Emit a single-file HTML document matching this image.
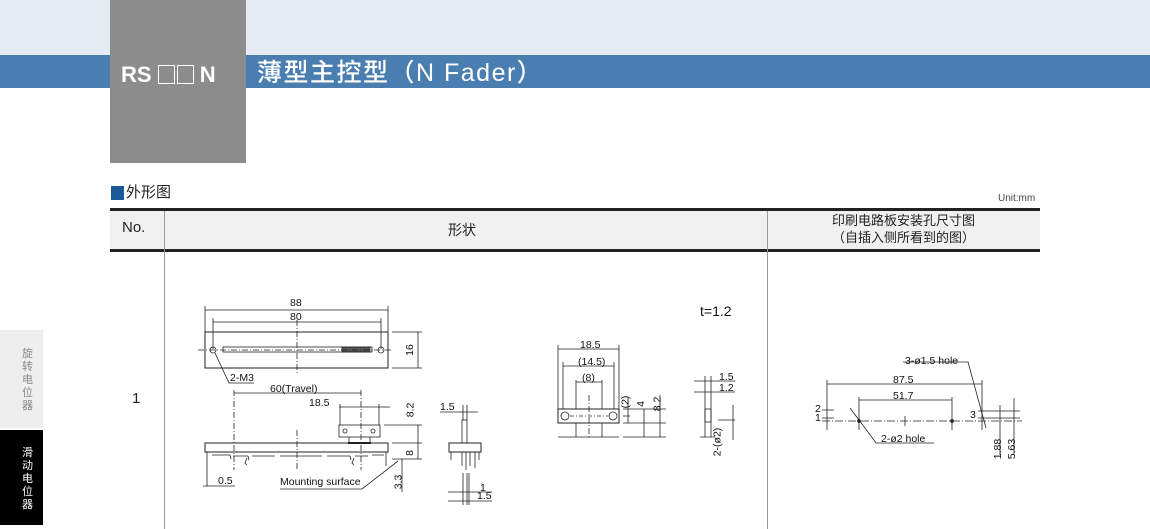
<!DOCTYPE html>
<html><head><meta charset="utf-8"><style>
*{margin:0;padding:0;box-sizing:border-box}
body{width:1150px;height:529px;position:relative;background:#fff;overflow:hidden;font-family:"Liberation Sans","Noto Sans CJK SC",sans-serif}
.a{position:absolute}
.d span{white-space:nowrap}
</style></head><body>
<div class="a" style="left:0;top:0;width:1150px;height:55px;background:#e6ecf3"></div>
<div class="a" style="left:0;top:55px;width:1150px;height:33px;background:#4a7eb0"></div>
<div class="a" style="left:110px;top:0;width:136px;height:163px;background:#8c8c8c"></div>
<div class="a" style="left:121px;top:60px;color:#fff;font-size:22px;font-weight:bold;line-height:30px;white-space:nowrap">RS <span style="display:inline-block;width:17px;height:19px;border:1.5px solid #fff;vertical-align:-2px"></span><span style="display:inline-block;width:17px;height:19px;border:1.5px solid #fff;vertical-align:-2px;margin-left:2px"></span> N</div>
<div class="a" style="left:257px;top:58px;color:#fff;font-size:25px;letter-spacing:1.5px;font-weight:500;line-height:30px;white-space:nowrap">薄型主控型（N Fader）</div>

<div class="a" style="left:111px;top:186px;width:13px;height:14px;background:#1a5a9a"></div>
<div class="a" style="left:126px;top:183px;font-size:15px;color:#222;line-height:20px">外形图</div>
<div class="a" style="left:998px;top:193px;font-size:10px;color:#444">Unit:mm</div>

<div class="a" style="left:110px;top:208px;width:930px;height:44px;background:#f0f0f0;border-top:3px solid #222;border-bottom:3px solid #222"></div>
<div class="a" style="left:164px;top:211px;width:1px;height:318px;background:#999"></div>
<div class="a" style="left:767px;top:211px;width:1px;height:318px;background:#999"></div>
<div class="a" style="left:122px;top:219px;font-size:15px;color:#222">No.</div>
<div class="a" style="left:448px;top:220px;font-size:14px;color:#222">形状</div>
<div class="a" style="left:767px;top:212px;width:273px;text-align:center;font-size:13px;line-height:17px;color:#222">印刷电路板安装孔尺寸图<br>（自插入侧所看到的图）</div>
<div class="a" style="left:132px;top:390px;font-size:15px;color:#222">1</div>

<div class="a" style="left:0;top:330px;width:43px;height:98px;background:#eeeeee"></div>
<div class="a" style="left:22px;top:348px;width:14px;font-size:11px;line-height:13px;color:#888">旋转电位器</div>
<div class="a" style="left:0;top:430px;width:43px;height:95px;background:#000"></div>
<div class="a" style="left:22px;top:447px;width:14px;font-size:11px;line-height:13px;color:#fff">滑动电位器</div>

<svg class="a" style="left:0;top:0" width="1150" height="529" fill="none" stroke="#222" stroke-width="0.8">
<rect x="205" y="332" width="183" height="36" stroke-width="1"/>
<line x1="205" y1="310" x2="388" y2="310"/><line x1="205" y1="306" x2="205" y2="332"/><line x1="388" y1="306" x2="388" y2="332"/>
<line x1="213" y1="322" x2="381" y2="322"/><line x1="213" y1="318" x2="213" y2="349"/><line x1="381" y1="318" x2="381" y2="349"/>
<circle cx="213" cy="350" r="3"/><circle cx="381" cy="350" r="3"/>
<rect x="223" y="347" width="149" height="5"/><rect x="342" y="347" width="28" height="5" fill="#555"/>
<line x1="198" y1="350" x2="392" y2="350" stroke-dasharray="6 2 1 2"/>
<line x1="297" y1="320" x2="297" y2="375" stroke-dasharray="6 2 1 2"/>
<line x1="392" y1="332" x2="422" y2="332"/><line x1="392" y1="368" x2="422" y2="368"/><line x1="418" y1="332" x2="418" y2="368"/>
<polyline points="215,353 229,383 254,383"/>
<line x1="234" y1="393" x2="361" y2="393"/>
<line x1="234" y1="390" x2="234" y2="470" stroke-dasharray="6 2 1 2"/><line x1="361" y1="390" x2="361" y2="470" stroke-dasharray="6 2 1 2"/>
<line x1="297" y1="430" x2="297" y2="470" stroke-dasharray="6 2 1 2"/>
<line x1="339" y1="407" x2="390" y2="407"/><line x1="340" y1="404" x2="340" y2="425"/><line x1="379" y1="404" x2="379" y2="425"/>
<rect x="339" y="425" width="41" height="12"/><circle cx="345" cy="431" r="2"/><circle cx="373" cy="431" r="2"/>
<path d="M349 437 V443 M370 437 V443"/><line x1="348" y1="443" x2="371" y2="443" stroke-width="2"/>
<rect x="205" y="443" width="183" height="9" stroke-width="1"/>
<path d="M207 452 V466 M386 452 V466 M212 455 H230 M233 456 H248 M252 456 H275 M280 456 H322 M327 456 H350 M355 456 H368 M230 455 l1 4 M248 456 l1 4 M350 456 l1 4 M372 455 H384"/>
<path d="M247 458 l-2 5 l2 2 M354 458 l-2 5 l2 2"/>
<line x1="384" y1="425" x2="422" y2="425"/><line x1="392" y1="443" x2="422" y2="443"/><line x1="392" y1="459" x2="422" y2="459"/>
<line x1="418" y1="425" x2="418" y2="459"/>
<line x1="402" y1="459" x2="402" y2="492"/>
<path d="M207 466 V486 M203 486 H214 M210 486 H235"/>
<polyline points="280,489 362,489 398,461"/>
<line x1="440" y1="412" x2="478" y2="412"/><line x1="463" y1="405" x2="463" y2="420"/><line x1="467" y1="405" x2="467" y2="420"/>
<rect x="462" y="420" width="5" height="23"/>
<rect x="449" y="443" width="32" height="9" stroke-width="1"/>
<path d="M451 452 V460 M479 452 V460 M462 452 V466 M466 452 V470 M470 452 V466 M475 452 V468"/>
<path d="M463 473 V505 M467 473 V505 M469 473 V505"/>
<line x1="448" y1="492" x2="492" y2="492"/><line x1="448" y1="501" x2="492" y2="501"/>
<line x1="558" y1="349" x2="619" y2="349"/><line x1="558" y1="345" x2="558" y2="409"/><line x1="619" y1="345" x2="619" y2="409"/>
<line x1="563" y1="366" x2="614" y2="366"/><line x1="563" y1="362" x2="563" y2="409"/><line x1="614" y1="362" x2="614" y2="409"/>
<line x1="576" y1="382" x2="602" y2="382"/><line x1="576" y1="380" x2="576" y2="409"/><line x1="602" y1="380" x2="602" y2="409"/>
<rect x="558" y="409" width="61" height="14" stroke-width="1"/>
<circle cx="565" cy="416" r="4"/><circle cx="613" cy="416" r="4"/>
<line x1="570" y1="416" x2="608" y2="416" stroke-dasharray="4 2 1 2"/>
<line x1="589" y1="395" x2="589" y2="437" stroke-dasharray="6 2 1 2"/>
<path d="M576 423 V437 M602 423 V437 M558 437 H619"/>
<path d="M623 409 H666 M623 423 H666 M623 437 H666 M628 398 V423 M644 409 V437 M660 395 V437 M623 416 H630"/>
<path d="M694 381 H735 M694 392 H735 M705 376 V437 M711 376 V437 M700 437 H715 M718 420 H735 M733 405 V440"/>
<rect x="705" y="409" width="6" height="13"/>
<line x1="822" y1="421" x2="1022" y2="421" stroke-dasharray="8 2 1 2"/>
<line x1="827" y1="384" x2="982" y2="384"/><line x1="827" y1="380" x2="827" y2="430"/><line x1="982" y1="380" x2="982" y2="430"/>
<line x1="859" y1="400" x2="952" y2="400"/><line x1="859" y1="397" x2="859" y2="430"/><line x1="952" y1="397" x2="952" y2="430"/>
<path d="M822 410 H834 M822 418 H834 M905 416 V426"/>
<circle cx="859" cy="421" r="1.5" fill="#222"/><circle cx="952" cy="421" r="1.5" fill="#222"/>
<polyline points="850,408 862,424 876,443 934,443"/>
<polyline points="903,362 968,362 986,428"/>
<path d="M978 411 H1020 M978 418 H1020 M1000 405 V455 M1014 398 V455"/>
</svg>
<div class="a d" style="font-size:10.5px;color:#111;left:0;top:0">
<span class="a" style="left:290px;top:297px">88</span>
<span class="a" style="left:290px;top:311px">80</span>
<span class="a" style="left:404px;top:344px;transform:rotate(-90deg)">16</span>
<span class="a" style="left:230px;top:372px">2-M3</span>
<span class="a" style="left:270px;top:383px">60(Travel)</span>
<span class="a" style="left:309px;top:397px">18.5</span>
<span class="a" style="left:403px;top:404px;transform:rotate(-90deg)">8.2</span>
<span class="a" style="left:407px;top:447px;transform:rotate(-90deg)">8</span>
<span class="a" style="left:391px;top:476px;transform:rotate(-90deg)">3.3</span>
<span class="a" style="left:218px;top:475px">0.5</span>
<span class="a" style="left:280px;top:476px">Mounting surface</span>
<span class="a" style="left:440px;top:401px">1.5</span>
<span class="a" style="left:480px;top:482px">1</span>
<span class="a" style="left:477px;top:490px">1.5</span>
<span class="a" style="left:580px;top:339px">18.5</span>
<span class="a" style="left:578px;top:356px">(14.5)</span>
<span class="a" style="left:582px;top:372px">(8)</span>
<span class="a" style="left:619px;top:396px;transform:rotate(-90deg)">(2)</span>
<span class="a" style="left:638px;top:398px;transform:rotate(-90deg)">4</span>
<span class="a" style="left:650px;top:398px;transform:rotate(-90deg)">8.2</span>
<span class="a" style="left:700px;top:303px;font-size:14px">t=1.2</span>
<span class="a" style="left:719px;top:371px">1.5</span>
<span class="a" style="left:719px;top:382px">1.2</span>
<span class="a" style="left:703px;top:436px;transform:rotate(-90deg)">2-(ø2)</span>
<span class="a" style="left:905px;top:355px">3-ø1.5 hole</span>
<span class="a" style="left:893px;top:374px">87.5</span>
<span class="a" style="left:893px;top:390px">51.7</span>
<span class="a" style="left:815px;top:403px">2</span>
<span class="a" style="left:815px;top:412px">1</span>
<span class="a" style="left:970px;top:409px">3</span>
<span class="a" style="left:881px;top:433px">2-ø2 hole</span>
<span class="a" style="left:988px;top:443px;transform:rotate(-90deg)">1.88</span>
<span class="a" style="left:1002px;top:443px;transform:rotate(-90deg)">5.63</span>
</div>
</body></html>
